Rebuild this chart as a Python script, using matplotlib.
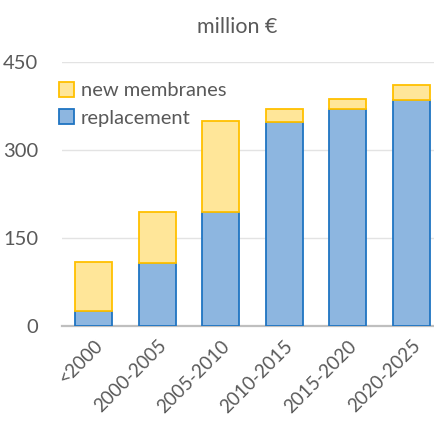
import matplotlib
matplotlib.use("Agg")
import matplotlib.pyplot as plt
import numpy as np

categories = ["<2000", "2000-2005", "2005-2010", "2010-2015", "2015-2020", "2020-2025"]
replacement = [26, 107, 194, 347, 370, 386]
new_membranes = [83, 87, 155, 23, 17, 25]
yticks = [0, 150, 300, 450]

plt.rcParams['font.family'] = ['Lato', 'DejaVu Sans']
text_color = '#595959'

fig = plt.figure(figsize=(4.34, 4.21), dpi=100)
ax = fig.add_axes([62/434, 95/421, 381/434, 264/421])

x = np.arange(len(categories))
w = 0.58
ax.bar(x, replacement, width=w, color='#8db6e0', edgecolor='#1f74c2', linewidth=1.3,
       label='replacement', zorder=3)
ax.bar(x, new_membranes, width=w, bottom=replacement, color='#ffe699', edgecolor='#ffc000',
       linewidth=1.3, label='new membranes', zorder=3)

ax.set_xlim(-0.5, len(categories) - 0.5)
ax.set_ylim(0, 450)
ax.set_yticks(yticks)
ax.set_yticklabels([str(v) for v in yticks])
ax.yaxis.grid(True, color='#e3e3e3', linewidth=1.0, zorder=0)
ax.set_axisbelow(True)
for s in ['top', 'right', 'left']:
    ax.spines[s].set_visible(False)
ax.spines['bottom'].set_color('#bfbfbf')
ax.spines['bottom'].set_linewidth(1.6)
ax.tick_params(axis='both', length=0, labelsize=14.5, colors=text_color)
ax.tick_params(axis='y', pad=17)
ax.set_xticks(x)
ax.set_xticklabels(categories, rotation=45, ha='right', va='top', rotation_mode='anchor',
                   fontsize=13.5)
ax.tick_params(axis='x', pad=8)

ax.set_title('million €', fontsize=15.5, color=text_color, pad=21, x=0.46)

handles, labels = ax.get_legend_handles_labels()
leg = ax.legend(handles[::-1], labels[::-1], loc='upper left', bbox_to_anchor=(-0.03, 0.955),
                frameon=False, fontsize=14.5, handlelength=0.75, handleheight=0.75,
                handletextpad=0.35, labelspacing=0.5, labelcolor=text_color, borderaxespad=0)

fig.savefig('out.png', dpi=100)
